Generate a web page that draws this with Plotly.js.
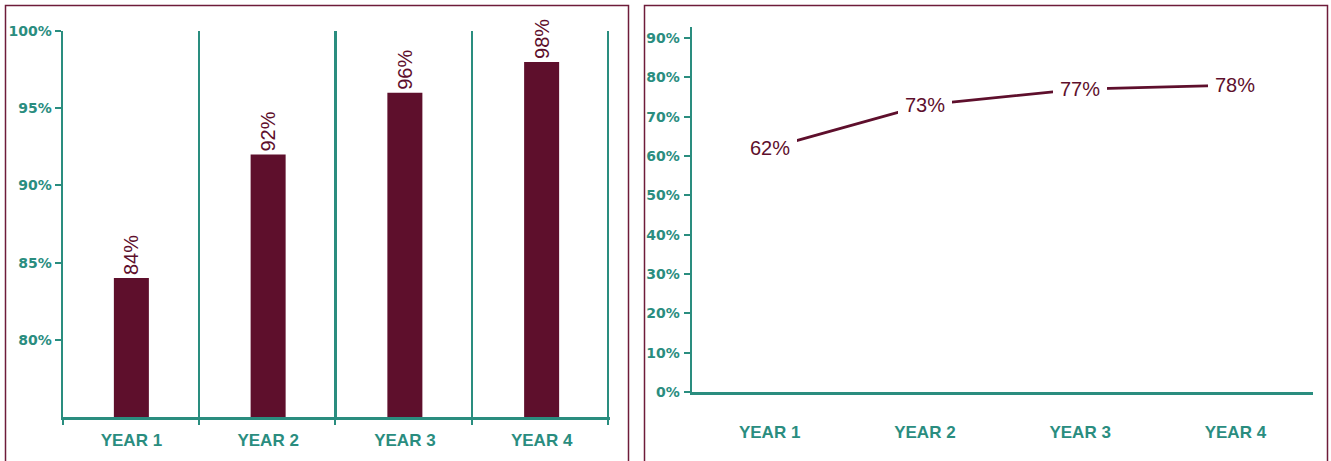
<!DOCTYPE html>
<html>
<head>
<meta charset="utf-8">
<script src="https://cdn.plot.ly/plotly-3.0.1.min.js"></script>
<style>html,body{margin:0;padding:0;background:#fff;}#chart{width:1331px;height:461px;}</style>
</head>
<body>
<div id="chart"></div>
<script>
const categories = ['YEAR 1', 'YEAR 2', 'YEAR 3', 'YEAR 4'];
const barValues = [84, 92, 96, 98];
const lineValues = [62, 73, 77, 78];
const leftTicks = [80, 85, 90, 95, 100];
const rightTicks = [0, 10, 20, 30, 40, 50, 60, 70, 80, 90];
const boundaries = [-0.5, 0.5, 1.5, 2.5, 3.5];

const W = 1331, H = 461;
const px = v => v / W;
const py = v => 1 - v / H;

const TEAL = '#2a8d7f';
const WINE = '#5e0f2c';
const BORDER = '#6e1c3a';
const tickFont = {family: 'DejaVu Sans, sans-serif', size: 14, color: TEAL, weight: 'bold'};
const catFont = {family: 'Liberation Sans, Arial, sans-serif', size: 17, color: TEAL, weight: 'bold'};

const traces = [
  {
    type: 'bar', x: categories, y: barValues, xaxis: 'x', yaxis: 'y',
    marker: {color: WINE}, width: 0.256,
    text: barValues.map(v => v + '%'), textposition: 'outside', textangle: -90,
    constraintext: 'none', cliponaxis: false,
    textfont: {family: 'Liberation Sans, Arial, sans-serif', size: 20, color: WINE},
    hoverinfo: 'skip'
  },
  {
    type: 'scatter', mode: 'markers', x: boundaries, y: boundaries.map(() => 75), xaxis: 'x3', yaxis: 'y',
    marker: {opacity: 0, size: 1}, hoverinfo: 'skip', showlegend: false
  },
  {
    type: 'scatter', mode: 'lines', x: categories, y: lineValues, xaxis: 'x2', yaxis: 'y2',
    line: {color: WINE, width: 2.8}, hoverinfo: 'skip'
  }
];

const annotations = categories.map((c, i) => ({
  x: c, y: lineValues[i], xref: 'x2', yref: 'y2', text: lineValues[i] + '%',
  showarrow: false, bgcolor: '#ffffff', borderpad: 7, borderwidth: 0,
  font: {family: 'Liberation Sans, Arial, sans-serif', size: 20, color: WINE}
}));

const layout = {
  width: W, height: H, margin: {l: 0, r: 0, t: 0, b: 0},
  paper_bgcolor: '#fff', plot_bgcolor: 'rgba(0,0,0,0)', showlegend: false,
  xaxis: {
    domain: [px(63), px(610)], type: 'category', range: [-0.5, 3.5],
    showline: true, linecolor: TEAL, linewidth: 2.5, ticks: '', showgrid: false, zeroline: false,
    tickfont: catFont, ticklabelstandoff: 6, anchor: 'y'
  },
  xaxis3: {
    overlaying: 'x', domain: [px(63), px(610)], type: 'linear', range: [-0.5, 3.515], anchor: 'y',
    tickmode: 'array', tickvals: boundaries, showticklabels: false,
    ticks: 'outside', ticklen: 7, tickwidth: 2, tickcolor: TEAL,
    showgrid: true, gridcolor: TEAL, gridwidth: 2.2, zeroline: false, showline: false
  },
  yaxis: {
    domain: [py(417), py(31)], range: [75, 100], anchor: 'x',
    tickmode: 'array', tickvals: leftTicks, ticktext: leftTicks.map(v => v + '%'),
    showline: true, linecolor: TEAL, linewidth: 2.5, ticks: 'outside', ticklen: 6, tickwidth: 2, tickcolor: TEAL,
    showgrid: false, zeroline: false, tickfont: tickFont, ticklabelstandoff: 0
  },
  xaxis2: {
    domain: [px(692), px(1313)], type: 'category', range: [-0.5, 3.5], anchor: 'y2',
    showline: true, linecolor: TEAL, linewidth: 2.5, ticks: '', showgrid: false, zeroline: false,
    tickfont: catFont, ticklabelstandoff: 23
  },
  yaxis2: {
    domain: [py(392), py(27)], range: [0, 92.8], anchor: 'x2',
    tickmode: 'array', tickvals: rightTicks, ticktext: rightTicks.map(v => v + '%'),
    showline: true, linecolor: TEAL, linewidth: 2.5, ticks: 'outside', ticklen: 6, tickwidth: 2, tickcolor: TEAL,
    showgrid: false, zeroline: false, tickfont: tickFont, ticklabelstandoff: 1
  },
  annotations: annotations,
  shapes: [
    {type: 'rect', xref: 'paper', yref: 'paper', x0: px(5.5), x1: px(628.5), y0: -0.05, y1: py(5.5),
     line: {color: BORDER, width: 1.5}, fillcolor: 'rgba(0,0,0,0)', layer: 'below'},
    {type: 'rect', xref: 'paper', yref: 'paper', x0: px(644.5), x1: px(1327.5), y0: -0.05, y1: py(5.5),
     line: {color: BORDER, width: 1.5}, fillcolor: 'rgba(0,0,0,0)', layer: 'below'}
  ]
};

Plotly.newPlot('chart', traces, layout, {staticPlot: true, displayModeBar: false});
</script>
</body>
</html>
